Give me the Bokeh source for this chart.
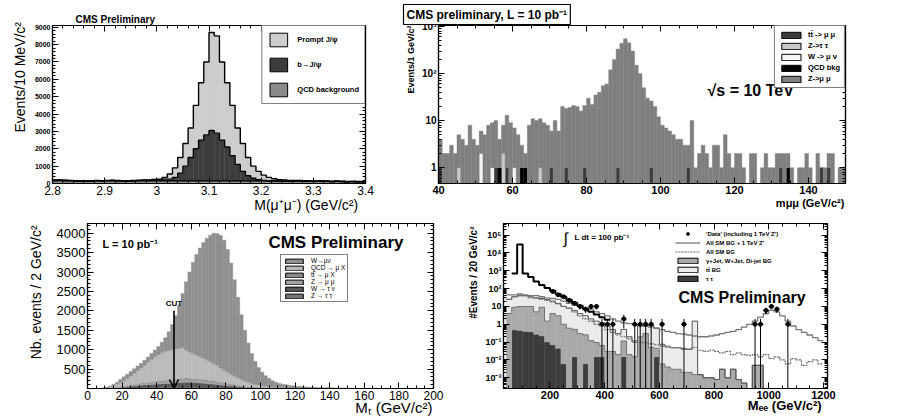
import numpy as np
from bokeh.plotting import figure
from bokeh.models import (Range1d, FixedTicker, LinearAxis, LogAxis, Label,
                          Legend, LegendItem, Arrow, OpenHead, CustomJSTickFormatter)
from bokeh.layouts import column, row
from bokeh.embed import file_html
from bokeh.resources import INLINE

FONT = "Liberation Sans"
NBSP = "\u00a0"

# ====================== DATA ======================
# --- Panel 1: J/psi -> mu mu, 10 MeV bins from 2.80 to 3.40 ---
jpsi_range = (2.80, 3.40)
jpsi_bin = 0.01
jpsi_qcd = [160, 170, 160, 150, 140, 140, 130, 140, 150, 140,
            150, 160, 150, 140, 130, 140, 150, 160, 150, 160,
            150, 150, 150, 150, 150, 150, 150, 150, 150, 150,
            150, 150, 150, 150, 150, 150, 150, 150, 150, 150,
            150, 140, 140, 140, 130, 130, 130, 140, 130, 120,
            120, 130, 120, 110, 120, 110, 100, 110, 100, 100]
jpsi_b = [20, 20, 15, 15, 10, 10, 10, 10, 15, 10,
          15, 15, 10, 10, 10, 10, 15, 20, 30, 40,
          60, 100, 100, 200, 450, 850, 1350, 1850, 2350, 2650,
          2900, 2750, 2350, 1950, 1450, 950, 550, 300, 150, 70,
          30, 20, 10, 10, 10, 10, 10, 10, 10, 5,
          5, 5, 5, 5, 5, 5, 5, 5, 5, 5]
jpsi_prompt = [20, 20, 20, 15, 15, 15, 15, 15, 15, 15,
               15, 15, 15, 15, 15, 20, 20, 25, 30, 35,
               40, 100, 300, 550, 900, 1300, 1700, 2500, 3300, 4200,
               5650, 5600, 4500, 3700, 2900, 2100, 1600, 1050, 700, 480,
               300, 190, 120, 70, 60, 40, 35, 30, 25, 20,
               20, 20, 15, 15, 15, 15, 15, 10, 10, 10]
jpsi_xticks = [2.8, 2.9, 3.0, 3.1, 3.2, 3.3, 3.4]
jpsi_xlabels = ["2.8", "2.9", "3", "3.1", "3.2", "3.3", "3.4"]
jpsi_yticks = [0, 1000, 2000, 3000, 4000, 5000, 6000, 7000, 8000, 9000]

# --- Panel 2: Z -> mu mu, 1 GeV bins from 40 to 150 ---
mumu_range = (40, 150)
mumu_bin = 1
mumu_zmm = [3, 2, 2, 3, 2, 4, 4, 3, 8, 4,
            3, 4, 5, 8, 8, 9, 3, 6, 12, 9,
            6, 5, 2, 1, 8, 11, 10, 10, 9, 8,
            5, 10, 6, 20, 17, 19, 21, 20, 16, 20,
            30, 22, 35, 40, 55, 60, 120, 200, 330, 440,
            550, 450, 300, 150, 100, 50, 30, 25, 20, 12,
            8, 7, 6, 5, 4, 4, 3, 2, 10, 1,
            2, 3, 2, 1, 3, 3, 1, 5, 2, 1,
            2, 2, 1, 0, 2, 2, 0, 1, 2, 1,
            1, 2, 1, 2, 1, 1, 0, 1, 1, 2,
            1, 0, 2, 0, 1, 1, 2, 0, 1, 1]
mumu_ttbar = [1, 0, 0, 0, 0, 0, 0, 0, 0, 0,
              0, 0, 0, 0, 0, 1, 0, 0, 1, 0,
              0, 0, 0, 0, 0, 0, 0, 0, 0, 0,
              1, 0, 0, 0, 1, 0, 0, 0, 0, 1,
              0, 0, 0, 0, 0, 0, 0, 0, 1, 0,
              0, 0, 0, 0, 0, 0, 0, 1, 0, 0,
              0, 0, 0, 0, 0, 0, 0, 1, 0, 0,
              0, 0, 0, 0, 0, 0, 0, 0, 0, 0,
              0, 0, 0, 0, 0, 0, 0, 0, 0, 0,
              0, 0, 1, 0, 0, 0, 0, 0, 0, 0,
              0, 0, 0, 1, 0, 1, 0, 0, 0, 0]
mumu_ztt = [0, 0, 0, 0, 0, 1, 0, 0, 0, 0,
            0, 0, 0, 0, 0, 0, 0, 2, 0, 0,
            0, 0, 0, 0, 0, 0, 0, 1, 0, 0,
            0, 0, 0, 0, 0, 0, 0, 0, 0, 0,
            0, 0, 0, 0, 0, 0, 0, 0, 0, 0,
            0, 0, 0, 0, 0, 0, 0, 0, 0, 0,
            0, 0, 0, 0, 0, 0, 0, 0, 0, 0,
            0, 0, 0, 0, 0, 0, 0, 0, 0, 0,
            0, 0, 0, 0, 0, 0, 0, 0, 0, 0,
            0, 0, 0, 0, 0, 0, 0, 0, 0, 0,
            0, 0, 0, 0, 0, 0, 0, 0, 0, 0]
mumu_wmn = [0, 0, 0, 0, 0, 0, 0, 0, 0, 0,
            0, 2, 0, 0, 1, 0, 0, 0, 0, 0,
            1, 0, 0, 0, 0, 0, 0, 0, 0, 0,
            0, 0, 0, 0, 0, 0, 0, 0, 0, 0,
            0, 0, 0, 0, 0, 0, 0, 0, 0, 0,
            0, 0, 0, 0, 0, 0, 0, 0, 0, 0,
            0, 0, 0, 0, 0, 0, 0, 0, 0, 0,
            0, 0, 0, 0, 0, 0, 0, 0, 0, 0,
            0, 0, 0, 0, 0, 0, 0, 0, 0, 0,
            0, 0, 0, 0, 0, 0, 0, 0, 0, 0,
            0, 0, 0, 0, 0, 0, 0, 0, 0, 0]
mumu_qcd = [0, 0, 0, 0, 0, 0, 0, 0, 0, 0,
            0, 0, 0, 0, 0, 0, 1, 0, 0, 0,
            0, 0, 1, 1, 0, 0, 0, 0, 0, 0,
            0, 0, 0, 0, 0, 0, 0, 0, 0, 0,
            0, 0, 0, 0, 0, 0, 0, 0, 0, 0,
            0, 0, 0, 0, 0, 0, 0, 0, 0, 0,
            0, 0, 0, 0, 0, 0, 0, 0, 0, 0,
            0, 0, 0, 0, 0, 0, 0, 0, 0, 0,
            0, 0, 0, 0, 0, 0, 0, 0, 0, 0,
            0, 0, 0, 0, 1, 0, 0, 0, 0, 0,
            0, 0, 0, 0, 0, 0, 0, 0, 0, 0]
mumu_xticks = [40, 60, 80, 100, 120, 140]
mumu_yticks = [1, 10, 100, 1000]
mumu_ylabels = ["1", "10", "10²", "10³"]

# --- Panel 3: W -> mu nu transverse mass, 2 GeV bins from 0 to 200 ---
mt_range = (0, 200)
mt_bin = 2
mt_wmunu = [0, 0, 0, 0, 2, 10, 20, 40, 50, 80,
            100, 110, 120, 120, 120, 120, 130, 130, 150, 170,
            210, 270, 350, 480, 650, 860, 1110, 1400, 1770, 2060,
            2350, 2590, 2800, 2980, 3130, 3260, 3360, 3400, 3420, 3350,
            3160, 2860, 2480, 2080, 1670, 1310, 1010, 770, 595, 455,
            350, 272, 212, 160, 127, 103, 88, 77, 65, 58,
            50, 43, 38, 33, 29, 26, 23, 21, 18, 17,
            15, 13, 12, 10, 9, 8, 8, 7, 6, 5,
            5, 4, 4, 3, 4, 3, 3, 3, 2, 2,
            2, 2, 2, 1, 1, 1, 1, 1, 1, 1]
mt_qcd = [0, 0, 0, 2, 6, 15, 30, 50, 80, 105,
          140, 185, 230, 285, 340, 395, 450, 520, 580, 640,
          680, 720, 750, 760, 770, 780, 790, 790, 710, 675,
          640, 610, 580, 550, 520, 485, 450, 415, 370, 325,
          290, 255, 220, 185, 160, 132, 112, 90, 72, 58,
          48, 40, 34, 29, 24, 20, 17, 14, 12, 10,
          8, 8, 7, 7, 6, 5, 5, 4, 4, 3,
          3, 3, 2, 2, 2, 2, 1, 1, 1, 1,
          1, 1, 1, 1, 0, 0, 0, 0, 0, 0,
          0, 0, 0, 0, 0, 0, 0, 0, 0, 0]
mt_ztautau = [0, 0, 0, 0, 0, 1, 2, 4, 6, 8,
              10, 12, 14, 16, 18, 20, 22, 23, 24, 25,
              26, 27, 28, 28, 28, 28, 28, 28, 28, 27,
              26, 25, 23, 21, 19, 17, 15, 13, 11, 10,
              8, 7, 6, 5, 4, 3, 3, 2, 2, 1,
              1, 0, 0, 0, 0, 0, 0, 0, 0, 0,
              0, 0, 0, 0, 0, 0, 0, 0, 0, 0,
              0, 0, 0, 0, 0, 0, 0, 0, 0, 0,
              0, 0, 0, 0, 0, 0, 0, 0, 0, 0,
              0, 0, 0, 0, 0, 0, 0, 0, 0, 0]
mt_wtaunu = [0, 0, 0, 0, 1, 2, 4, 8, 12, 18,
             25, 32, 40, 47, 54, 61, 68, 73, 78, 83,
             88, 93, 98, 104, 110, 116, 122, 128, 134, 132,
             130, 125, 120, 116, 111, 104, 97, 89, 81, 73,
             65, 57, 49, 41, 33, 27, 22, 18, 15, 12,
             10, 8, 6, 5, 4, 3, 2, 2, 1, 1,
             1, 0, 0, 0, 0, 0, 0, 0, 0, 0,
             0, 0, 0, 0, 0, 0, 0, 0, 0, 0,
             0, 0, 0, 0, 0, 0, 0, 0, 0, 0,
             0, 0, 0, 0, 0, 0, 0, 0, 0, 0]
mt_zmumu = [0, 0, 0, 0, 1, 1, 3, 6, 9, 14,
            19, 24, 28, 33, 37, 42, 46, 49, 52, 55,
            58, 60, 62, 64, 66, 68, 70, 72, 74, 72,
            71, 69, 67, 64, 62, 58, 54, 50, 46, 42,
            38, 34, 30, 26, 22, 19, 16, 14, 11, 10,
            8, 7, 6, 5, 4, 3, 2, 2, 2, 1,
            1, 1, 1, 0, 0, 0, 0, 0, 0, 0,
            0, 0, 0, 0, 0, 0, 0, 0, 0, 0,
            0, 0, 0, 0, 0, 0, 0, 0, 0, 0,
            0, 0, 0, 0, 0, 0, 0, 0, 0, 0]
mt_ttbar = [0, 0, 0, 0, 0, 0, 0, 0, 3, 5,
            6, 7, 8, 9, 11, 12, 14, 15, 16, 17,
            18, 20, 22, 24, 26, 28, 30, 32, 34, 34,
            33, 31, 30, 29, 28, 26, 24, 23, 22, 20,
            19, 17, 15, 13, 11, 9, 7, 6, 5, 4,
            3, 3, 2, 1, 1, 1, 1, 0, 0, 0,
            0, 0, 0, 0, 0, 0, 0, 0, 0, 0,
            0, 0, 0, 0, 0, 0, 0, 0, 0, 0,
            0, 0, 0, 0, 0, 0, 0, 0, 0, 0,
            0, 0, 0, 0, 0, 0, 0, 0, 0, 0]
mt_cut = 50
mt_cut_arrow_top = 2000
mt_xticks = [0, 20, 40, 60, 80, 100, 120, 140, 160, 180, 200]
mt_yticks = [500, 1000, 1500, 2000, 2500, 3000, 3500, 4000]

# --- Panel 4: Z' -> ee, 20 GeV bins from 40 to 1200 ---
ee_range = (40, 1200)
ee_bin = 20
ee_tautau = [0, 0.48, 0.45, 0.4, 0.38, 0.28, 0.22, 0.1, 0.07, 0.045,
             0.006, 0, 0.015, 0, 0.006, 0, 0.015, 0.015, 0, 0,
             0, 0.015, 0, 0, 0, 0, 0, 0.015, 0, 0,
             0, 0, 0, 0, 0, 0, 0, 0, 0, 0,
             0, 0, 0, 0, 0, 0, 0, 0, 0, 0,
             0, 0, 0, 0, 0, 0, 0, 0]
ee_gjet = [4, 8.5, 9.5, 9.6, 9.6, 4.7, 8.8, 1.4, 3.9, 2.95,
           1, 0.6, 0.5, 0.3, 0.25, 0.12, 0.08, 0.05, 0.03, 0.03,
           0.02, 0.1, 0.02, 0.015, 0.2, 0.3, 0.05, 0.03, 0.006, 0.004,
           0.003, 0.003, 0.002, 0.002, 0.0015, 0.0015, 0.001, 0.001, 0.0008, 0.003,
           0.001, 0.003, 0.0008, 0.0005, 0, 0.005, 0.005, 0, 0, 0,
           0, 0, 0, 0, 0, 0, 0, 0]
ee_ttbar = [21, 26, 30, 30, 25, 25, 19, 23, 16, 12,
            9, 7.4, 5.5, 3.7, 2.75, 1.9, 1.4, 1.15, 0.77, 0.47,
            0.28, 0.4, 0.18, 0.085, 0.6, 0.5, 0.85, 0.57, 0.07, 0.05,
            0.045, 0.045, 0.038, 0.038, 1.5, 0, 0, 0, 0, 0,
            0, 0, 0, 0, 0, 0, 0, 0, 0, 0,
            0, 0, 0, 0, 0, 0, 0, 0]
ee_all_bg = [25, 35, 40, 40, 30, 30, 25, 22, 18, 14,
             10, 8, 5, 3, 2, 1.5, 1, 0.8, 0.5, 0.35,
             0.25, 0.2, 0.15, 0.12, 0.1, 0.09, 0.08, 0.07, 0.06, 0.06,
             0.05, 0.05, 0.045, 0.04, 0.05, 0.035, 0.03, 0.035, 0.03, 0.025,
             0.03, 0.02, 0.025, 0.02, 0.018, 0.02, 0.015, 0.02, 0.012, 0.015,
             0.01, 0.006, 0.012, 0.01, 0.005, 0.008, 0.01, 0.006]
ee_all_bg_zp = [45, 45, 50, 45, 40, 40, 35, 30, 28, 25,
                20, 15, 12, 10, 8, 7, 5, 4, 3, 2,
                1.5, 1.2, 1.1, 1, 0.9, 0.8, 0.7, 0.6, 0.5, 0.4,
                0.35, 0.3, 0.28, 0.25, 0.22, 0.2, 0.2, 0.22, 0.25, 0.3,
                0.35, 0.4, 0.5, 0.7, 1, 1.5, 2.5, 4, 6, 5,
                3, 1.5, 0.8, 0.5, 0.35, 0.25, 0.18, 0.12]
ee_total_dy = [0, 700, 30000, 700, 450, 250, 160, 110, 75, 50,
               35, 24, 16, 11, 7.5, 5, 3.5, 2.5, 1.8, 0,
               0, 0, 0, 0, 0, 0, 0, 0, 0, 0,
               0, 0, 0, 0, 0, 0, 0, 0, 0, 0,
               0, 0, 0, 0, 0, 0, 0, 0, 0, 0,
               0, 0, 0, 0, 0, 0, 0, 0]
ee_data_mass = [210, 230, 250, 270, 290, 310, 330, 350, 370, 390, 410, 430,
                470, 510, 530, 550, 570, 610, 690, 950, 970, 990, 1010, 1030, 1070]
ee_data_n = [70, 45, 35, 22, 15, 10, 7, 10, 10, 1, 1, 1,
             2, 1, 1, 1, 1, 1, 1, 1, 1, 6, 10, 7, 1]
ee_xticks = [200, 400, 600, 800, 1000, 1200]
ee_yticks = [1e-3, 1e-2, 1e-1, 1, 10, 100, 1e3, 1e4, 1e5]
ee_ylabels = ["10⁻³", "10⁻²", "10⁻¹", "1", "10", "10²", "10³", "10⁴", "10⁵"]

for arr, n in ((jpsi_qcd, 60), (jpsi_b, 60), (jpsi_prompt, 60),
               (mumu_zmm, 110), (mumu_ttbar, 110), (mumu_ztt, 110), (mumu_wmn, 110), (mumu_qcd, 110),
               (mt_wmunu, 100), (mt_qcd, 100), (mt_ztautau, 100), (mt_wtaunu, 100), (mt_zmumu, 100), (mt_ttbar, 100),
               (ee_tautau, 58), (ee_gjet, 58), (ee_ttbar, 58), (ee_all_bg, 58), (ee_all_bg_zp, 58), (ee_total_dy, 58)):
    assert len(arr) == n, (len(arr), n)

# ====================== HELPERS ======================
def make_fig(width, height, left, right, top, bottom, xr, yr, ylog=False):
    p = figure(width=width, height=height, x_range=Range1d(*xr), y_range=Range1d(*yr),
               y_axis_type="log" if ylog else "linear",
               output_backend="svg", toolbar_location=None,
               min_border_left=left, min_border_right=right,
               min_border_top=top, min_border_bottom=bottom)
    p.xgrid.visible = False
    p.ygrid.visible = False
    p.outline_line_color = "black"
    p.outline_line_width = 1.2
    p.background_fill_color = "white"
    p.border_fill_color = "white"
    return p


def overrides(ticks, labels):
    return {float(t): l for t, l in zip(ticks, labels)}


def style_axis(ax, ticker, size="10px", bold=False, show=True, labels=None):
    ax.ticker = ticker
    ax.axis_line_color = "black"
    ax.axis_line_width = 1.2
    ax.major_tick_in = 6
    ax.major_tick_out = 0
    ax.minor_tick_in = 3
    ax.minor_tick_out = 0
    ax.major_tick_line_color = "black"
    ax.minor_tick_line_color = "black"
    if show:
        ax.major_label_text_font = FONT
        ax.major_label_text_font_size = size
        ax.major_label_text_font_style = "bold" if bold else "normal"
        ax.major_label_text_color = "black"
        ax.major_label_standoff = 2
        if labels is not None:
            ax.major_label_overrides = labels
    else:
        ax.formatter = CustomJSTickFormatter(code="return ' ';")
        ax.major_label_text_font_size = "2px"
        ax.major_label_text_alpha = 0
        ax.major_label_standoff = 0


def axis_title(ax, s, size, bold=False, standoff=2, pad=0):
    # ROOT puts axis titles flush with the end of the axis: the centred label
    # is led by no-break spaces so its visible text ends at the axis end.
    ax.axis_label = NBSP * pad + s
    ax.axis_label_text_font = FONT
    ax.axis_label_text_font_size = size
    ax.axis_label_text_font_style = "bold" if bold else "normal"
    ax.axis_label_text_color = "black"
    ax.axis_label_standoff = standoff


def setup_axes(p, xt, xminor, yt, yminor, xsize, ysize, xbold, ybold,
               xlabels=None, ylabels=None, ylog=False):
    xticker = FixedTicker(ticks=xt, minor_ticks=xminor)
    yticker = FixedTicker(ticks=yt, minor_ticks=yminor)
    style_axis(p.below[0], xticker, xsize, xbold, True, xlabels)
    style_axis(p.left[0], yticker, ysize, ybold, True, ylabels)
    top_ax = LinearAxis()
    right_ax = LogAxis() if ylog else LinearAxis()
    style_axis(top_ax, xticker, show=False)
    style_axis(right_ax, yticker, show=False)
    p.add_layout(top_ax, "above")
    p.add_layout(right_ax, "right")


def set_title(p, s, size, offset, standoff=2, **kw):
    t = p.title
    t.text = s
    t.align = "left"
    t.offset = offset
    t.text_font = FONT
    t.text_font_size = size
    t.text_font_style = "bold"
    t.text_color = "black"
    t.standoff = standoff
    for k, v in kw.items():
        try:
            setattr(t, k, v)
        except Exception:
            pass


def stack(p, edges, layers, colors, floor=None):
    edges = np.asarray(edges, float)
    left, right = edges[:-1], edges[1:]
    cum = np.zeros(len(left))
    tops = []
    for vals, col in zip(layers, colors):
        vals = np.asarray(vals, float)
        bot = cum.copy()
        cum = cum + vals
        m = vals > 0
        b = bot[m]
        if floor is not None:
            b = np.where(b > 0, b, floor)
        p.quad(left=left[m], right=right[m], bottom=b, top=cum[m],
               fill_color=col, line_color=col, line_width=0.4)
        tops.append(cum.copy())
    return tops


def outline(p, edges, top, floor=None, **kw):
    y = np.append(np.asarray(top, float), top[-1])
    if floor is not None:
        y = np.where(y > 0, y, floor)
    p.step(x=np.asarray(edges, float), y=y, mode="after", **kw)


def text(p, s, x, y, xo=0, yo=0, size="10px", bold=False, align="left",
         baseline="middle", angle=0.0, **kw):
    lab = Label(x=x, y=y, x_offset=xo, y_offset=yo, text=s, text_font=FONT,
                text_font_size=size, text_font_style="bold" if bold else "normal",
                text_align=align, text_baseline=baseline, angle=angle,
                text_color="black", **kw)
    p.add_layout(lab)


def proxy_box(p, color, x0, y0):
    # legend swatch renderer: a zero-size quad sitting on a frame corner
    return p.quad(left=[x0], right=[x0], top=[y0], bottom=[y0], fill_color=color,
                  line_color="black", line_width=1.0)


def legend(p, items, loc, gw, gh, fs, spacing, padding, border=True, standoff=6, bold=True):
    leg = Legend(items=[LegendItem(label=l, renderers=[r]) for l, r in items],
                 location=loc, glyph_width=gw, glyph_height=gh, label_height=gh,
                 label_text_font=FONT, label_text_font_size=fs,
                 label_text_font_style="bold" if bold else "normal",
                 label_text_color="black",
                 spacing=spacing, padding=padding, margin=0, label_standoff=standoff,
                 border_line_color="black" if border else None, border_line_width=1.2,
                 background_fill_color="white",
                 background_fill_alpha=1.0 if border else 0.0)
    p.add_layout(leg)
    return leg

# ====================== PANEL 1 ======================
y1 = (0, 9100)
p1 = make_fig(395, 215, 52, 30, 15, 32, jpsi_range, y1)
e1 = np.round(np.arange(len(jpsi_qcd) + 1) * jpsi_bin + jpsi_range[0], 3)
c_qcd1, c_b1, c_pr1 = "#8a8a8a", "#3c3c3c", "#cdcdcd"
tops1 = stack(p1, e1, [jpsi_qcd, jpsi_b, jpsi_prompt], [c_qcd1, c_b1, c_pr1])
for t in tops1:
    outline(p1, e1, t, line_color="black", line_width=1.4)
setup_axes(p1, jpsi_xticks, list(np.round(np.arange(2.8, 3.401, 0.02), 2)),
           jpsi_yticks, list(range(0, 9101, 200)), "12px", "7px", False, True,
           xlabels=overrides(jpsi_xticks, jpsi_xlabels))
axis_title(p1.below[0], "M(μ⁺μ⁻) (GeV/c²)", "14px", standoff=-1, pad=50)
axis_title(p1.left[0], "Events/10 MeV/c²", "14px", standoff=4, pad=14)
set_title(p1, "CMS Preliminary", "10px", 23, standoff=1)
r_pr = proxy_box(p1, c_pr1, jpsi_range[0], 0)
r_b = proxy_box(p1, c_b1, jpsi_range[0], 0)
r_q = proxy_box(p1, c_qcd1, jpsi_range[0], 0)
legend(p1, [("Prompt J/ψ", r_pr), ("b→J/ψ", r_b), ("QCD background", r_q)],
       "top_right", 22, 17, "7.5px", 8, 5, standoff=8)

# ====================== PANEL 2 ======================
y2 = (0.46, 1050)
p2 = make_fig(503, 215, 43, 53, 25, 30, mumu_range, y2, ylog=True)
e2 = np.arange(len(mumu_zmm) + 1) * mumu_bin + mumu_range[0]
c_tt2, c_ztt2, c_wmn2, c_qcd2, c_zmm2 = "#3c3c3c", "#c8c8c8", "#f4f4f4", "#000000", "#7f7f7f"
stack(p2, e2, [mumu_ttbar, mumu_ztt, mumu_wmn, mumu_qcd, mumu_zmm],
      [c_tt2, c_ztt2, c_wmn2, c_qcd2, c_zmm2], floor=0.1)
minor2 = [m * d for d in (0.1, 1, 10, 100) for m in range(2, 10)]
setup_axes(p2, mumu_xticks, list(range(40, 151, 5)), mumu_yticks, minor2,
           "11px", "10px", True, True, ylabels=overrides(mumu_yticks, mumu_ylabels), ylog=True)
axis_title(p2.below[0], "mμμ (GeV/c²)", "11px", bold=True, standoff=0, pad=110)
axis_title(p2.left[0], "Events/1 GeV/c²", "9px", bold=True, standoff=3, pad=36)
set_title(p2, "CMS preliminary, L = 10 pb⁻¹", "12px", -35, standoff=2,
          border_line_color="black", border_line_width=1.2,
          background_fill_color="white", padding=3)
rs = [proxy_box(p2, c, mumu_range[0], 1) for c in (c_tt2, c_ztt2, c_wmn2, c_qcd2, c_zmm2)]
legend(p2, list(zip(["tt̄ -> μ μ", "Z->τ τ", "W -> μ ν", "QCD bkg", "Z->μ μ"], rs)),
       "top_right", 24, 8, "7.5px", 2, 4, standoff=5)
text(p2, "√s = 10 TeV", mumu_range[0], y2[1], xo=269, yo=-65, size="16px", bold=True)

# ====================== PANEL 3 ======================
y3 = (0, 4250)
p3 = make_fig(450, 203, 87, 17, 8, 25, mt_range, y3)
e3 = np.arange(len(mt_wmunu) + 1) * mt_bin + mt_range[0]
cols3 = {"ztt": "#767676", "wtn": "#555555", "zmm": "#a3a3a3", "tt": "#8a8a8a",
         "qcd": "#bababa", "wmn": "#8f8f8f"}
stack(p3, e3, [mt_ztautau, mt_wtaunu, mt_zmumu, mt_ttbar, mt_qcd, mt_wmunu],
      [cols3["ztt"], cols3["wtn"], cols3["zmm"], cols3["tt"], cols3["qcd"], cols3["wmn"]])
setup_axes(p3, mt_xticks, list(range(0, 201, 5)), mt_yticks, list(range(100, 4250, 100)),
           "12px", "13px", False, False)
axis_title(p3.below[0], "Mₜ (GeV/c²)", "15px", standoff=-4, pad=64)
axis_title(p3.left[0], "Nb. events / 2 GeV/c²", "14px", standoff=10, pad=7)
p3.add_layout(Arrow(end=OpenHead(size=9, line_width=1.6, line_color="black"),
                    x_start=mt_cut, y_start=mt_cut_arrow_top, x_end=mt_cut, y_end=0,
                    line_width=1.6, line_color="black"))
text(p3, "CUT", mt_cut, mt_cut_arrow_top, yo=3, size="8px", bold=True, align="center",
     baseline="bottom")
rs3 = [proxy_box(p3, cols3[k], mt_range[0], 0) for k in ("wmn", "qcd", "tt", "zmm", "wtn", "ztt")]
legend(p3, list(zip(["W→μν", "QCD → μ X", "tt̄ → μ X", "Z → μ μ", "W → τ ν", "Z → τ τ"], rs3)),
       (193, 86), 22, 6, "6.5px", 0, 2, standoff=6, bold=False)
text(p3, "L = 10 pb⁻¹", mt_range[0], y3[1], xo=15, yo=-20, size="11px", bold=True)
text(p3, "CMS Preliminary", mt_range[1], y3[1], xo=-30, yo=-19, size="17px", bold=True,
     align="right")

# ====================== PANEL 4 ======================
x4 = (30, 1215)
y4 = (2.5e-4, 4.5e5)
floor4 = 1e-5
p4 = make_fig(448, 203, 53, 71, 8, 25, x4, y4, ylog=True)
e4 = np.arange(len(ee_tautau) + 1) * ee_bin + ee_range[0]
c_tau4, c_gj4, c_tt4 = "#3c3c3c", "#a9a9a9", "#ebebeb"
tops4 = stack(p4, e4, [ee_tautau, ee_gjet, ee_ttbar], [c_tau4, c_gj4, c_tt4], floor=floor4)
outline(p4, e4, tops4[2], floor=floor4, line_color="#555555", line_width=1)
outline(p4, e4, tops4[1], floor=floor4, line_color="#555555", line_width=0.8)
r_allbg = p4.step(x=e4, y=np.append(ee_all_bg, ee_all_bg[-1]), mode="after",
                  line_color="#6a6a6a", line_width=1.2, line_dash="2 1")
r_allzp = p4.step(x=e4, y=np.append(ee_all_bg_zp, ee_all_bg_zp[-1]), mode="after",
                  line_color="#777777", line_width=1.3)
dy = np.asarray(ee_total_dy, float)
idx = np.nonzero(dy > 0)[0]
p4.step(x=e4[idx[0]:idx[-1] + 2], y=np.append(dy[idx], dy[idx[-1]]), mode="after",
        line_color="black", line_width=2)
dm = np.asarray(ee_data_mass, float)
dn = np.asarray(ee_data_n, float)
derr = np.sqrt(dn)
p4.segment(x0=dm, x1=dm, y0=np.where(dn - derr > 0, dn - derr, floor4), y1=dn + derr,
           line_color="black", line_width=1)
p4.segment(x0=dm - ee_bin / 2, x1=dm + ee_bin / 2, y0=dn, y1=dn, line_color="black", line_width=1)
r_data = p4.scatter(dm, dn, marker="circle", size=4, fill_color="black", line_color="black")
minor4 = [m * d for d in (1e-4, 1e-3, 1e-2, 1e-1, 1, 10, 100, 1e3, 1e4, 1e5) for m in range(2, 10)]
setup_axes(p4, ee_xticks, list(range(50, 1215, 50)), ee_yticks, minor4,
           "11px", "9px", True, True, ylabels=overrides(ee_yticks, ee_ylabels), ylog=True)
axis_title(p4.below[0], "Mₑₑ (GeV/c²)", "13px", bold=True, standoff=-4, pad=66)
axis_title(p4.left[0], "#Events / 20 GeV/c²", "10px", bold=True, standoff=3, pad=24)
rg = proxy_box(p4, c_gj4, x4[0], 1)
rt = proxy_box(p4, c_tt4, x4[0], 1)
rta = proxy_box(p4, c_tau4, x4[0], 1)
legend(p4, [("'Data' (including 1 TeV Z')", r_data), ("All SM BG + 1 TeV Z'", r_allzp),
            ("All SM BG", r_allbg), ("γ+Jet, W+Jet, Di-jet BG", rg), ("tt̄ BG", rt),
            ("τ τ", rta)],
       (172, 106), 25, 7, "6px", 2, 2, border=False, standoff=6)
text(p4, "∫", x4[0], y4[1], xo=60, yo=-15, size="16px")
text(p4, "L dt = 100 pb⁻¹", x4[0], y4[1], xo=71, yo=-14, size="8px", bold=True)
text(p4, "CMS Preliminary", x4[0], y4[1], xo=175, yo=-74, size="16px", bold=True)

layout = column(row(p1, p2), row(p3, p4))
open("out.html", "w").write(file_html(layout, INLINE))
